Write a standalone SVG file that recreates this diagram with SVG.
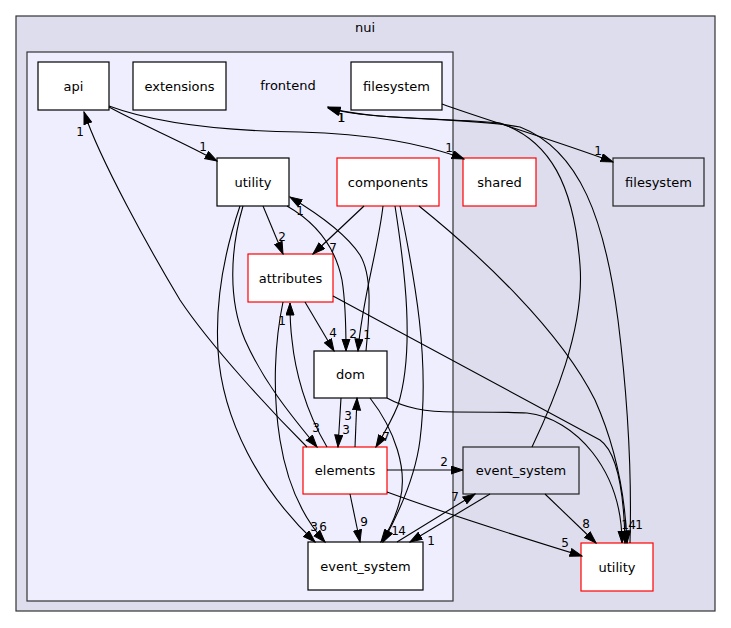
<svg xmlns="http://www.w3.org/2000/svg" width="731" height="628" viewBox="0 0 731 628">
<defs>
<marker id="ah" markerUnits="userSpaceOnUse" markerWidth="14" markerHeight="10" refX="12.5" refY="4.5" orient="auto">
<path d="M0.5,0.5 L12.5,4.5 L0.5,8.5 z" fill="#000" stroke="#000" stroke-width="1"/>
</marker>
</defs>
<style>
.cl{stroke:#333;stroke-width:1.2}
.nb{fill:#fff;stroke:#000;stroke-width:1.2}
.nr{fill:#fff;stroke:#ff0000;stroke-width:1.2}
.no{fill:#ddddee;stroke:#222;stroke-width:1.2}
.t{font-family:"DejaVu Sans",sans-serif;font-size:13px;text-anchor:middle;fill:#000}
.e path{fill:none;stroke:#000;stroke-width:1.1;marker-end:url(#ah)}
.l{font-family:"DejaVu Sans",sans-serif;font-size:12px;text-anchor:middle;fill:#000}
</style>
<rect width="731" height="628" fill="#fff"/>
<g id="cluster_nui">
<rect class="cl" x="16" y="16" width="699" height="595" fill="#ddddee"/>
<text class="t" x="365" y="32">nui</text>
</g>
<g id="cluster_frontend">
<rect class="cl" x="27" y="52" width="426" height="549" fill="#eeeeff"/>
<text class="t" x="288" y="90">frontend</text>
</g>
<g id="node_api"><rect class="nb" x="38" y="62" width="71" height="48"/><text class="t" x="73.5" y="90.5">api</text></g>
<g id="node_extensions"><rect class="nb" x="133" y="62" width="93" height="48"/><text class="t" x="179.5" y="90.5">extensions</text></g>
<g id="node_filesystem_fe"><rect class="nb" x="351" y="62" width="91" height="48"/><text class="t" x="396.5" y="90.5">filesystem</text></g>
<g id="node_utility_fe"><rect class="nb" x="217" y="158" width="72" height="48"/><text class="t" x="253" y="186.5">utility</text></g>
<g id="node_components"><rect class="nr" x="337" y="158" width="102" height="48"/><text class="t" x="388" y="186.5">components</text></g>
<g id="node_shared"><rect class="nr" x="463" y="158" width="73" height="48"/><text class="t" x="499.5" y="186.5">shared</text></g>
<g id="node_filesystem"><rect class="no" x="613" y="158" width="91" height="48"/><text class="t" x="658.5" y="186.5">filesystem</text></g>
<g id="node_attributes"><rect class="nr" x="248" y="254" width="85" height="48"/><text class="t" x="290.5" y="282.5">attributes</text></g>
<g id="node_dom"><rect class="nb" x="314" y="351" width="73" height="47"/><text class="t" x="350.5" y="379">dom</text></g>
<g id="node_elements"><rect class="nr" x="303" y="447" width="84" height="47"/><text class="t" x="345" y="475">elements</text></g>
<g id="node_event_system_fe"><rect class="nb" x="308" y="542" width="115" height="48"/><text class="t" x="365.5" y="570.5">event_system</text></g>
<g id="node_event_system"><rect class="no" x="463" y="447" width="116" height="47"/><text class="t" x="521" y="475">event_system</text></g>
<g id="node_utility"><rect class="nr" x="581" y="543" width="72" height="48"/><text class="t" x="617" y="571.5">utility</text></g>
<g id="connectors" class="e">
<path d="M109,107 C140,124 185,143 217,161"/>
<text class="l" x="203" y="151">1</text>
<path d="M109,106 C160,125 230,131 300,132 C370,134 425,144 464,159"/>
<text class="l" x="449" y="152">1</text>
<path d="M307,447 C270,410 210,345 180,300 C150,250 100,160 84,112"/>
<text class="l" x="80" y="136">1</text>
<path d="M442,104 C480,118 560,142 613,162"/>
<text class="l" x="598" y="155">1</text>
<path d="M532,447 C552,405 585,330 580,265 C574,185 550,140 500,123 C450,118 365,120 328,107"/>
<path d="M630,543 C632,470 628,400 618,320 C605,220 580,150 520,127 C470,117 370,121 328,108"/>
<text class="l" x="341" y="122">1</text>
<text class="l" x="341.6" y="122">1</text>
<path d="M263,206 L283,254"/>
<text class="l" x="282" y="241">2</text>
<path d="M364,206 L313,254"/>
<text class="l" x="333" y="252">7</text>
<path d="M305,302 L334,351"/>
<text class="l" x="333" y="337">4</text>
<path d="M287,206 C315,222 335,245 342,280 C346,305 346,330 346,351"/>
<text class="l" x="353" y="338">2</text>
<path d="M366,351 C370,310 372,275 360,255 C345,232 315,212 290,197"/>
<text class="l" x="300" y="215">1</text>
<path d="M383,206 C378,250 362,300 358,351"/>
<text class="l" x="367" y="339">1</text>
<path d="M243,206 C230,250 228,300 245,340 C265,385 295,420 317,447"/>
<text class="l" x="316" y="432">3</text>
<path d="M240,206 C225,250 215,300 218,350 C222,420 260,490 315,542"/>
<text class="l" x="314" y="531">3</text>
<path d="M283,302 C275,340 272,390 280,440 C288,490 305,520 325,542"/>
<text class="l" x="323" y="531">6</text>
<path d="M327,447 C305,410 295,370 292,340 C290,325 290,315 290,303"/>
<text class="l" x="282" y="325">1</text>
<path d="M341,398 L338,447"/>
<text class="l" x="346" y="434">3</text>
<path d="M355,447 L357,398"/>
<text class="l" x="348" y="420">3</text>
<path d="M395,206 C405,270 415,350 398,405 C392,420 385,432 376,447"/>
<text class="l" x="386" y="441">7</text>
<path d="M400,206 C415,280 430,360 420,440 C415,480 395,520 383,542"/>
<path d="M370,398 C395,430 408,470 400,500 C395,520 388,532 381,542"/>
<text class="l" x="395" y="535">1</text>
<text class="l" x="402" y="535">4</text>
<path d="M350,494 L360,542"/>
<text class="l" x="364" y="526">9</text>
<path d="M387,470 L463,470"/>
<text class="l" x="444" y="466">2</text>
<path d="M387,492 C450,515 520,537 582,556"/>
<text class="l" x="565" y="547">5</text>
<path d="M490,494 L410,542"/>
<text class="l" x="431" y="545">1</text>
<path d="M397,542 L475,494"/>
<text class="l" x="455" y="501">7</text>
<path d="M545,494 L596,543"/>
<text class="l" x="586" y="528">8</text>
<path d="M387,398 C405,408 425,412 455,412 C490,412 510,412 527,413 C575,418 622,470 622,543"/>
<path d="M333,296 L600,440 C617,452 624,490 625,543"/>
<path d="M419,206 C480,255 560,330 595,400 C615,445 625,490 627,543"/>
<text class="l" x="625" y="529">1</text>
<text class="l" x="632" y="529">4</text>
<text class="l" x="639" y="529">1</text>
</g>
</svg>
